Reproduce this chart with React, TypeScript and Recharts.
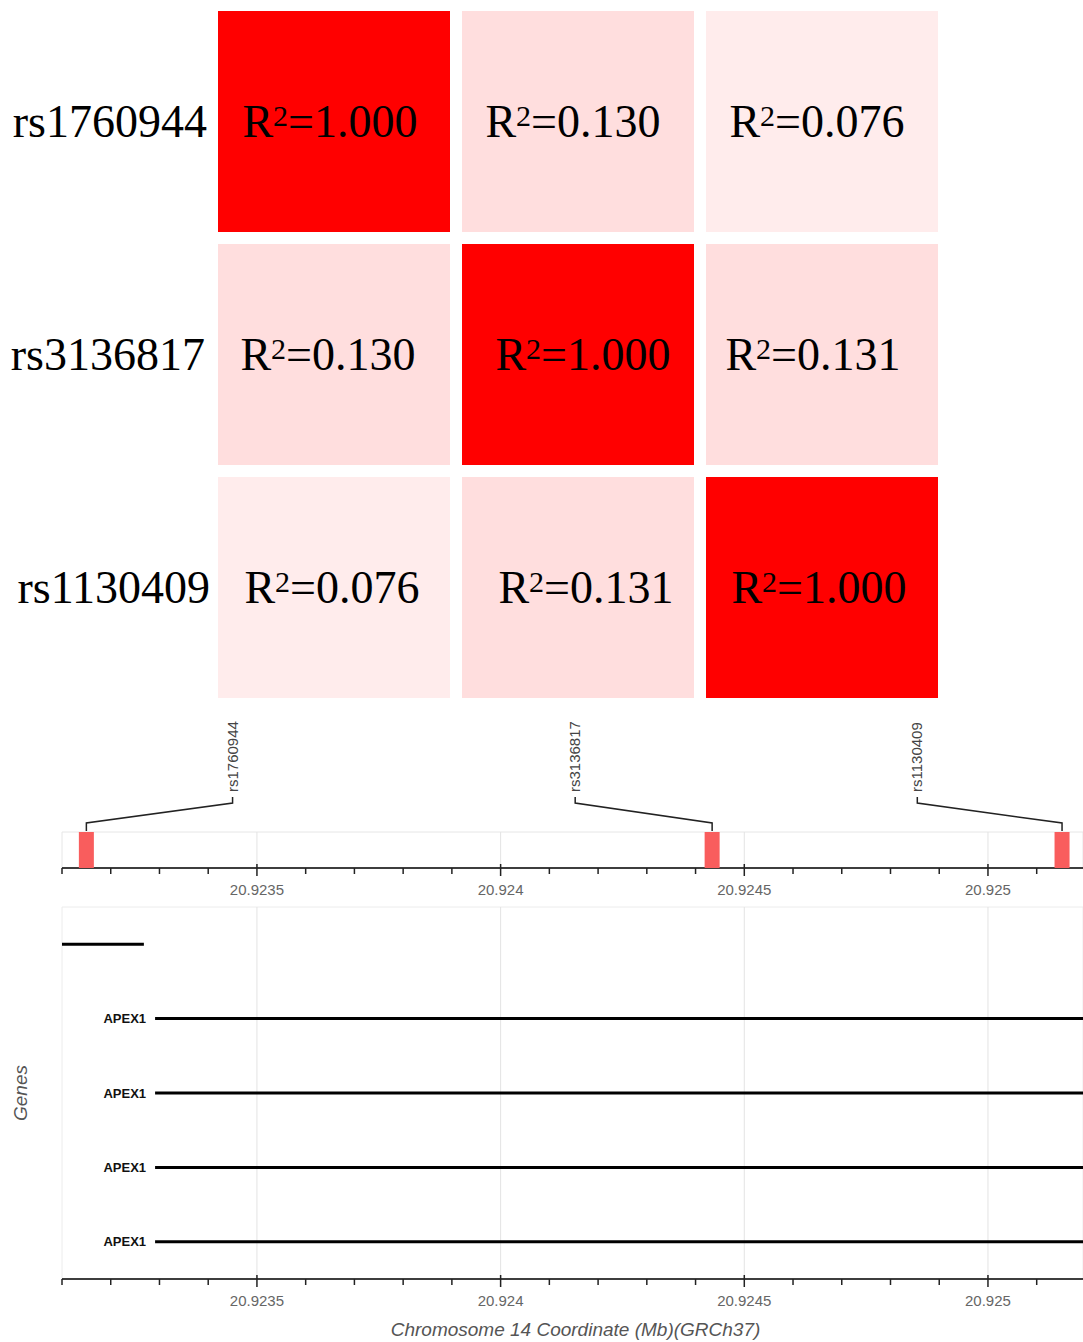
import React from 'react';
import { ScatterChart, ComposedChart, Scatter, XAxis, YAxis, ReferenceArea, ReferenceLine } from 'recharts';

// ---------- data ----------
const snpNames = ['rs1760944', 'rs3136817', 'rs1130409'];
const r2Row1 = [1.0, 0.13, 0.076];
const r2Row2 = [0.13, 1.0, 0.131];
const r2Row3 = [0.076, 0.131, 1.0];

const snpPositions = [20.92315, 20.924434, 20.925152];
const snpLabelPositions = [20.92345, 20.924153, 20.924855];

const axisTicks = [
  20.9231, 20.9232, 20.9233, 20.9234, 20.9235, 20.9236, 20.9237, 20.9238, 20.9239,
  20.924, 20.9241, 20.9242, 20.9243, 20.9244, 20.9245, 20.9246, 20.9247, 20.9248, 20.9249,
  20.925, 20.9251,
];
const majorTicks = [20.9235, 20.924, 20.9245, 20.925];
const xDomain: [number, number] = [20.9231, 20.925195];

const geneNames = ['', 'APEX1', 'APEX1', 'APEX1', 'APEX1'];
const geneStarts = [20.9228, 20.923291, 20.923291, 20.923291, 20.923291];
const geneEnds = [20.923268, 20.9262, 20.9262, 20.9262, 20.9262];

// ---------- styles ----------
const SERIF = "'Liberation Serif', 'Times New Roman', serif";
const SANS = "'Liberation Sans', Arial, sans-serif";

// small per-cell text nudges seen in the reference (layout only)
const textNudge = [
  [-4, -5, -5],
  [-6, 5, -9],
  [-2, 8, -3],
];

const r2Rows = [r2Row1, r2Row2, r2Row3];
const heatData = r2Rows.flatMap((row, ri) =>
  row.map((v, ci) => ({ x: ci + 0.5, y: ri + 0.5, r2: v, ri, ci }))
);

const cellFill = (v: number) => {
  const c = Math.round(255 * (1 - v));
  return `rgb(255,${c},${c})`;
};

const HeatCell = (props: any) => {
  const { cx, cy, payload } = props;
  const w = 232;
  const h = 221;
  const dx = textNudge[payload.ri][payload.ci];
  return (
    <g>
      <rect x={cx - w / 2} y={cy - h / 2} width={w} height={h} fill={cellFill(payload.r2)} />
      <text x={cx + dx} y={cy + 15} textAnchor="middle" fontFamily={SERIF} fontSize={46} fill="#000">
        <tspan>R</tspan>
        <tspan fontSize={30} dy={-11}>2</tspan>
        <tspan dy={11}>={payload.r2.toFixed(3)}</tspan>
      </text>
    </g>
  );
};

const rowNudge = [-1, -3, 2];

const RowTick = (props: any) => {
  const { x, y, payload } = props;
  const i = Math.floor(payload.value);
  return (
    <text x={x + rowNudge[i]} y={y + 15} textAnchor="end" fontFamily={SERIF} fontSize={46} fill="#000">
      {snpNames[i]}
    </text>
  );
};

const AxisTick = (props: any) => {
  const { x, y, payload } = props;
  const major = majorTicks.some((m) => Math.abs(m - payload.value) < 1e-7);
  return (
    <g>
      <line x1={x} x2={x} y1={major ? y - 4 : y} y2={major ? y + 8 : y + 6} stroke="#222" strokeWidth={1.5} />
      {major && (
        <text x={x} y={y + 27} textAnchor="middle" fontFamily={SANS} fontSize={15} fill="#666">
          {String(payload.value)}
        </text>
      )}
    </g>
  );
};

const Empty = () => <g />;

const SnpRect = (props: any) => {
  const { cx, cy } = props;
  return <rect x={cx - 7.5} y={cy - 18} width={15} height={36} fill="#F95D5D" />;
};

const SnpLabel = (props: any) => {
  const { cx, cy, payload } = props;
  return (
    <text
      x={cx + 5}
      y={cy}
      transform={`rotate(-90, ${cx + 5}, ${cy})`}
      textAnchor="start"
      fontFamily={SANS}
      fontSize={15}
      fill="#444"
    >
      {payload.name}
    </text>
  );
};

const GeneStart = (props: any) => {
  const { cx, cy, payload } = props;
  if (!payload.name) return <g />;
  return (
    <text x={cx - 9} y={cy + 4.5} textAnchor="end" fontFamily={SANS} fontWeight="bold" fontSize={13} fill="#111">
      {payload.name}
    </text>
  );
};

const AxisTitle = (props: any) => {
  const vb = props.viewBox || { x: 62, y: 1279, width: 1021, height: 63 };
  return (
    <text
      x={vb.x + vb.width / 2 + 3}
      y={vb.y + 57}
      textAnchor="middle"
      fontFamily={SANS}
      fontStyle="italic"
      fontSize={19}
      fill="#555"
    >
      Chromosome 14 Coordinate (Mb)(GRCh37)
    </text>
  );
};

const GenesLabel = (props: any) => {
  const vb = props.viewBox || { x: 0, y: 7, width: 62, height: 372 };
  const x = vb.x + 27;
  const y = vb.y + vb.height / 2;
  return (
    <text
      x={x}
      y={y}
      transform={`rotate(-90, ${x}, ${y})`}
      textAnchor="middle"
      fontFamily={SANS}
      fontStyle="italic"
      fontSize={19}
      fill="#555"
    >
      Genes
    </text>
  );
};

export default function App() {
  return (
    <div style={{ position: 'absolute', left: 0, top: 0, width: 1083, height: 1342, background: '#fff', overflow: 'hidden' }}>
      {/* LD heatmap */}
      <div style={{ position: 'absolute', left: 0, top: 0 }}>
        <ScatterChart width={1083} height={706} margin={{ top: 5, right: 139, bottom: 2, left: 12 }}>
          <XAxis type="number" dataKey="x" domain={[0, 3]} hide />
          <YAxis
            type="number"
            dataKey="y"
            domain={[0, 3]}
            reversed
            ticks={[0.5, 1.5, 2.5]}
            interval={0}
            width={200}
            axisLine={false}
            tickLine={false}
            tickSize={0}
            tickMargin={4}
            tick={<RowTick />}
          />
          <Scatter data={heatData} shape={<HeatCell />} isAnimationActive={false} />
        </ScatterChart>
      </div>

      {/* SNP track */}
      <div style={{ position: 'absolute', left: 0, top: 700 }}>
        <ComposedChart width={1083} height={203} margin={{ top: 12, right: 0, bottom: 0, left: 62 }}>
          <XAxis
            type="number"
            dataKey="x"
            domain={xDomain}
            allowDataOverflow
            ticks={axisTicks}
            interval={0}
            tick={<AxisTick />}
            tickSize={0}
            tickMargin={0}
            tickLine={false}
            axisLine={{ stroke: '#000', strokeWidth: 1.5 }}
            height={35}
          />
          <YAxis type="number" dataKey="y" domain={[0, 156]} hide />
          <ReferenceArea x1={xDomain[0]} x2={xDomain[1]} y1={0} y2={36} fill="#fff" fillOpacity={1} stroke="#e6e6e6" strokeWidth={1} />
          {majorTicks.map((t) => (
            <ReferenceLine key={t} segment={[{ x: t, y: 0 }, { x: t, y: 36 }]} stroke="#e3e3e3" strokeWidth={1} />
          ))}
          {snpPositions.map((p, i) => (
            <Scatter
              key={'c' + i}
              data={[
                { x: snpLabelPositions[i], y: 71 },
                { x: snpLabelPositions[i], y: 65 },
                { x: p, y: 45 },
                { x: p, y: 37 },
              ]}
              line={{ stroke: '#222', strokeWidth: 1.5 }}
              shape={<Empty />}
              isAnimationActive={false}
            />
          ))}
          <Scatter
            data={snpPositions.map((p) => ({ x: p, y: 18 }))}
            shape={<SnpRect />}
            isAnimationActive={false}
          />
          <Scatter
            data={snpLabelPositions.map((p, i) => ({ x: p, y: 76, name: snpNames[i] }))}
            shape={<SnpLabel />}
            isAnimationActive={false}
          />
        </ComposedChart>
      </div>

      {/* Gene track */}
      <div style={{ position: 'absolute', left: 0, top: 900 }}>
        <ComposedChart width={1083} height={442} margin={{ top: 7, right: 0, bottom: 0, left: 0 }}>
          <XAxis
            type="number"
            dataKey="x"
            domain={xDomain}
            allowDataOverflow
            ticks={axisTicks}
            interval={0}
            tick={<AxisTick />}
            tickSize={0}
            tickMargin={0}
            tickLine={false}
            axisLine={{ stroke: '#000', strokeWidth: 1.5 }}
            height={63}
            label={<AxisTitle />}
          />
          <YAxis
            type="number"
            dataKey="y"
            domain={[0, 5]}
            reversed
            allowDataOverflow
            width={62}
            tick={false}
            axisLine={false}
            tickLine={false}
            label={<GenesLabel />}
          />
          <ReferenceArea x1={xDomain[0]} x2={xDomain[1]} y1={0} y2={5} fill="#fff" fillOpacity={0} stroke="#ececec" strokeWidth={1} />
          {majorTicks.map((t) => (
            <ReferenceLine key={t} x={t} stroke="#e3e3e3" strokeWidth={1} />
          ))}
          {geneNames.map((g, i) => (
            <Scatter
              key={'g' + i}
              data={[
                { x: geneStarts[i], y: i + 0.5, name: g },
                { x: geneEnds[i], y: i + 0.5, name: '' },
              ]}
              line={{ stroke: '#000', strokeWidth: 3 }}
              shape={<GeneStart />}
              isAnimationActive={false}
            />
          ))}
        </ComposedChart>
      </div>
    </div>
  );
}
